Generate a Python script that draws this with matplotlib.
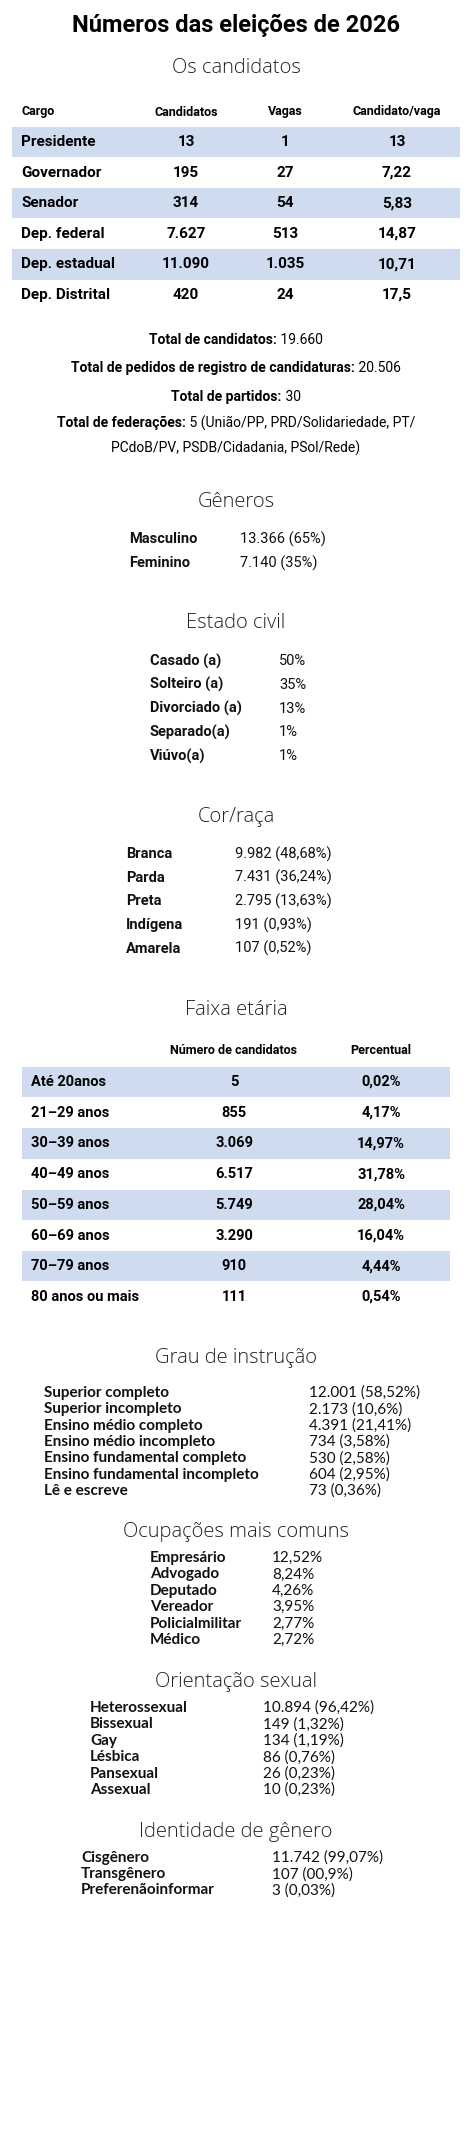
import matplotlib.pyplot as plt

# data
cargos = ['Presidente', 'Governador', 'Senador', 'Dep. federal', 'Dep. estadual', 'Dep. Distrital']
candidatos = ['13', '195', '314', '7.627', '11.090', '420']
vagas = ['1', '27', '54', '513', '1.035', '24']
cand_vaga = ['13', '7,22', '5,83', '14,87', '10,71', '17,5']
totais = ['Total de candidatos: 19.660',
          'Total de pedidos de registro de candidaturas: 20.506',
          'Total de partidos: 30',
          'Total de federações: 5 (União/PP, PRD/Solidariedade, PT/',
          'PCdoB/PV, PSDB/Cidadania, PSol/Rede)']

generos = ['Masculino', 'Feminino']
generos_val = ['13.366 (65%)', '7.140 (35%)']
estado_civil = ['Casado (a)', 'Solteiro (a)', 'Divorciado (a)', 'Separado(a)', 'Viúvo(a)']
estado_civil_val = ['50%', '35%', '13%', '1%', '1%']
raca = ['Branca', 'Parda', 'Preta', 'Indígena', 'Amarela']
raca_val = ['9.982 (48,68%)', '7.431 (36,24%)', '2.795 (13,63%)', '191 (0,93%)', '107 (0,52%)']

faixas = ['Até 20anos', '21–29 anos', '30–39 anos', '40–49 anos', '50–59 anos',
          '60–69 anos', '70–79 anos', '80 anos ou mais']
faixas_n = ['5', '855', '3.069', '6.517', '5.749', '3.290', '910', '111']
faixas_pct = ['0,02%', '4,17%', '14,97%', '31,78%', '28,04%', '16,04%', '4,44%', '0,54%']

instrucao = ['Superior completo', 'Superior incompleto', 'Ensino médio completo',
             'Ensino médio incompleto', 'Ensino fundamental completo',
             'Ensino fundamental incompleto', 'Lê e escreve']
instrucao_val = ['12.001 (58,52%)', '2.173 (10,6%)', '4.391 (21,41%)', '734 (3,58%)',
                 '530 (2,58%)', '604 (2,95%)', '73 (0,36%)']
ocupacoes = ['Empresário', 'Advogado', 'Deputado', 'Vereador', 'Policialmilitar', 'Médico']
ocupacoes_val = ['12,52%', '8,24%', '4,26%', '3,95%', '2,77%', '2,72%']
orientacao = ['Heterossexual', 'Bissexual', 'Gay', 'Lésbica', 'Pansexual', 'Assexual']
orientacao_val = ['10.894 (96,42%)', '149 (1,32%)', '134 (1,19%)', '86 (0,76%)',
                  '26 (0,23%)', '10 (0,23%)']
identidade = ['Cisgênero', 'Transgênero', 'Preferenãoinformar']
identidade_val = ['11.742 (99,07%)', '107 (00,9%)', '3 (0,03%)']

BAND = '#cfdcf0'
NARROW = ['Roboto', 'DejaVu Sans']
HEAD = ['Open Sans', 'DejaVu Sans']
WIDE = ['Lato', 'DejaVu Sans']

fig = plt.figure(figsize=(4.72, 21.37), dpi=100)
ax = fig.add_axes([0, 0, 1, 1])
ax.set_xlim(0, 472)
ax.set_ylim(2137, 0)
ax.axis('off')


def heading(y, text):
    ax.text(236, y, text, ha='center', va='center', fontsize=14.5,
            family=HEAD, color='#222222', weight='light')


def pairs(y0, step, labels, values, xl, xv, fam, size):
    for i, (lab, val) in enumerate(zip(labels, values)):
        y = y0 + i * step
        ax.text(xl, y, lab, ha='left', va='center', fontsize=size,
                family=fam, weight='bold', color='#111111')
        ax.text(xv, y, val, ha='left', va='center', fontsize=size,
                family=fam, color='#111111')


# title
ax.text(236, 25, 'Números das eleições de 2026', ha='center', va='center',
        fontsize=17, family=NARROW, weight='bold')

# os candidatos
heading(68, 'Os candidatos')
hdr_y = 112
ax.text(21, hdr_y, 'Cargo', ha='left', va='center', fontsize=9, family=NARROW, weight='bold')
for x, h in zip([186, 285, 397], ['Candidatos', 'Vagas', 'Candidato/vaga']):
    ax.text(x, hdr_y, h, ha='center', va='center', fontsize=9, family=NARROW, weight='bold')
rows_y = [142 + 30.6 * i for i in range(len(cargos))]
ax.barh([rows_y[i] for i in range(0, len(cargos), 2)], 448, left=12, height=30.5,
        color=BAND, zorder=0)
for y, c, n, v, r in zip(rows_y, cargos, candidatos, vagas, cand_vaga):
    ax.text(21, y, c, ha='left', va='center', fontsize=11, family=NARROW, weight='bold')
    for x, s in zip([186, 285, 397], [n, v, r]):
        ax.text(x, y, s, ha='center', va='center', fontsize=11, family=NARROW, weight='bold')

renderer = fig.canvas.get_renderer()
for y, t in zip([340, 368, 397, 423, 448], totais):
    lab, _, rest = t.partition(':')
    if rest:
        tl = ax.text(0, y, lab + ':', ha='left', va='center', fontsize=10,
                     family=NARROW, weight='bold')
        tr = ax.text(0, y, rest, ha='left', va='center', fontsize=10, family=NARROW)
        wl = tl.get_window_extent(renderer).width
        wr = tr.get_window_extent(renderer).width
        x0 = 236 - (wl + wr) / 2
        tl.set_x(x0)
        tr.set_x(x0 + wl)
    else:
        ax.text(236, y, t, ha='center', va='center', fontsize=10, family=NARROW)

# gêneros
heading(502, 'Gêneros')
pairs(539, 24, generos, generos_val, 129, 240, NARROW, 10.5)

# estado civil
heading(623, 'Estado civil')
pairs(661, 23.8, estado_civil, estado_civil_val, 150, 279, NARROW, 10.5)

# cor/raça
heading(817, 'Cor/raça')
pairs(854, 23.7, raca, raca_val, 126, 235, NARROW, 10.5)

# faixa etária
heading(1010, 'Faixa etária')
ax.text(234, 1050, 'Número de candidatos', ha='center', va='center', fontsize=9,
        family=NARROW, weight='bold')
ax.text(381, 1050, 'Percentual', ha='center', va='center', fontsize=9,
        family=NARROW, weight='bold')
fy = [1082 + 30.7 * i for i in range(len(faixas))]
ax.barh([fy[i] for i in range(0, len(faixas), 2)], 428, left=22, height=30.5,
        color=BAND, zorder=0)
for y, f, n, p in zip(fy, faixas, faixas_n, faixas_pct):
    ax.text(31, y, f, ha='left', va='center', fontsize=10.5, family=NARROW, weight='bold')
    ax.text(234, y, n, ha='center', va='center', fontsize=10.5, family=NARROW, weight='bold')
    ax.text(381, y, p, ha='center', va='center', fontsize=10.5, family=NARROW, weight='bold')

# grau de instrução
heading(1358, 'Grau de instrução')
pairs(1393, 16.3, instrucao, instrucao_val, 44, 309, WIDE, 11)

# ocupações
heading(1532, 'Ocupações mais comuns')
pairs(1558, 16.4, ocupacoes, ocupacoes_val, 150, 272, WIDE, 11)

# orientação sexual
heading(1682, 'Orientação sexual')
pairs(1708, 16.4, orientacao, orientacao_val, 90, 263, WIDE, 11)

# identidade de gênero
heading(1832, 'Identidade de gênero')
pairs(1858, 16.2, identidade, identidade_val, 81, 272, WIDE, 11)

fig.savefig('out.png', dpi=100, facecolor='white')
